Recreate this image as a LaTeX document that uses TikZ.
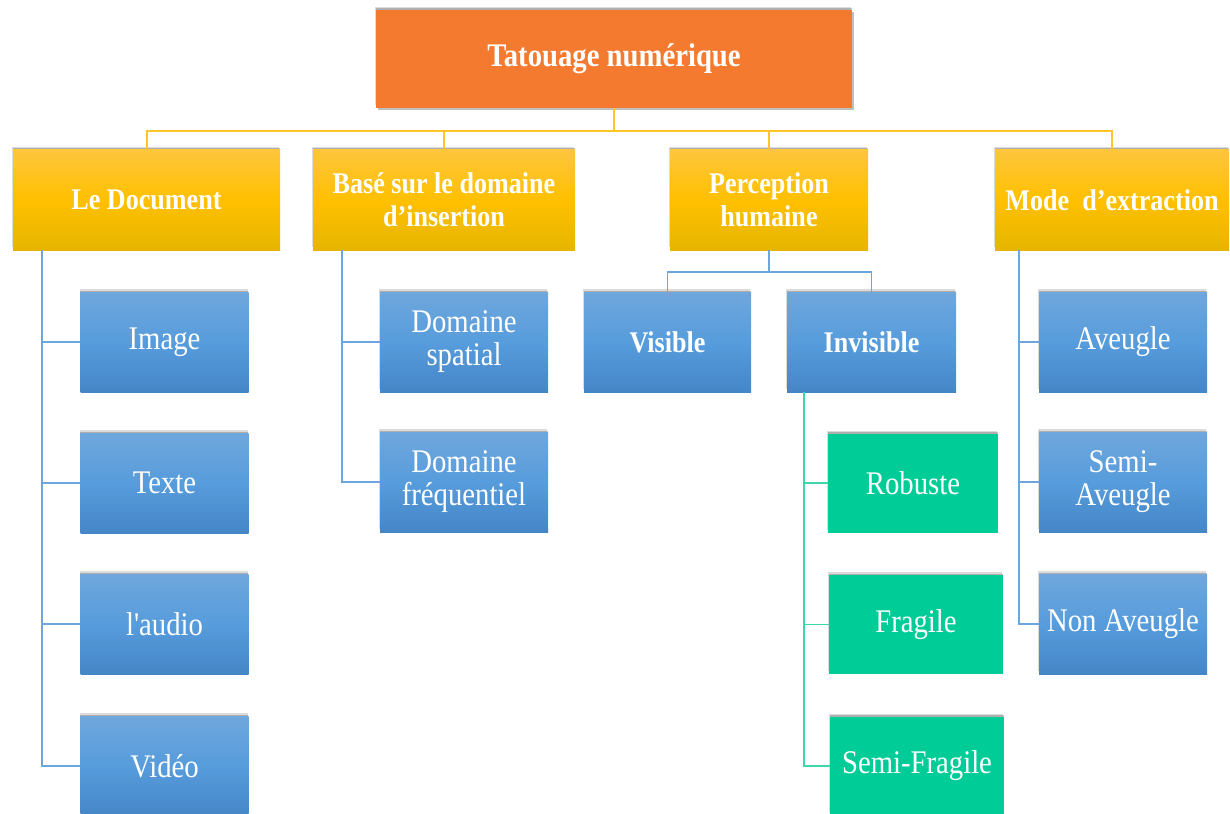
\documentclass[tikz,border=0pt]{standalone}
\usepackage{fontspec}
\setmainfont{Liberation Serif}[FakeStretch=0.87, Ligatures=TeXOff]
\usetikzlibrary{shadows}

\definecolor{rootorange}{HTML}{F47A2F}
\definecolor{goldtop}{HTML}{FDC63C}
\definecolor{goldmid}{HTML}{FFC000}
\definecolor{goldbot}{HTML}{E6B500}
\definecolor{bluetop}{HTML}{6FA7DC}
\definecolor{bluemid}{HTML}{579CDC}
\definecolor{bluebot}{HTML}{4586C7}
\definecolor{mint}{HTML}{00CC98}
\definecolor{goldline}{HTML}{FFC52A}
\definecolor{blueline}{HTML}{6BA6DE}
\definecolor{mintline}{HTML}{3FD6AA}

\begin{document}
\begin{tikzpicture}[x=1pt,y=-1pt,
  softshadow/.style={
    drop shadow={shadow xshift=-1pt, shadow yshift=3pt, opacity=0.14, fill=black},
    drop shadow={shadow xshift=-0.5pt, shadow yshift=1.5pt, opacity=0.2, fill=black}},
  basebox/.style={rectangle, inner sep=2pt, align=center, text=white, softshadow},
  rootbox/.style={basebox, fill=rootorange, minimum width=476pt, minimum height=98pt,
    font=\fontsize{33}{34}\selectfont\bfseries,
    drop shadow={shadow xshift=2pt, shadow yshift=-2pt, opacity=0.25, fill=black}},
  catbox/.style={basebox, top color=goldtop, bottom color=goldbot, middle color=goldmid,
    minimum height=100pt, font=\fontsize{30}{33}\selectfont\bfseries},
  leafbox/.style={basebox, top color=bluetop, bottom color=bluebot, middle color=bluemid,
    minimum width=168pt, minimum height=100pt, font=\fontsize{33}{33}\selectfont},
  kindbox/.style={leafbox, font=\fontsize{30}{33}\selectfont\bfseries},
  greenbox/.style={basebox, fill=mint, minimum height=99pt, font=\fontsize{33}{33}\selectfont},
  goldlink/.style={draw=goldline, line width=2pt},
  bluelink/.style={draw=blueline, line width=1.6pt},
  mintlink/.style={draw=mintline, line width=1.8pt}
]
\useasboundingbox (0,0) rectangle (1230,813);
\fill[white] (0,0) rectangle (1230,813);
\clip (0,0) rectangle (1230,813);

% root and the four criteria
\node[rootbox] (root) at (614,59) {Tatouage numérique};
\node[catbox, minimum width=267pt] (doc)  at (146.5,200) {Le Document};
\node[catbox, minimum width=262pt] (dom)  at (444,200) {Basé sur le domaine\\d’insertion};
\node[catbox, minimum width=198pt] (perc) at (769,200) {Perception\\humaine};
\node[catbox, minimum width=234pt] (mode) at (1112,200) {Mode~~d’extraction};

% document types
\node[leafbox] (img)   at (164.5,342) {Image};
\node[leafbox] (txt)   at (164.5,483) {Texte};
\node[leafbox] (aud)   at (164.5,624) {l'audio};
\node[leafbox] (vid)   at (164.5,766) {Vidéo};

% insertion domains
\node[leafbox] (spat)  at (464,342) {Domaine\\spatial};
\node[leafbox] (freq)  at (464,482) {Domaine\\fréquentiel};

% human perception
\node[kindbox, minimum width=167pt] (vis) at (667.5,342) {Visible};
\node[kindbox, minimum width=169pt] (inv) at (871.5,342) {Invisible};

% robustness of invisible marks
\node[greenbox, minimum width=170pt] (rob)  at (913,483) {Robuste};
\node[greenbox, minimum width=174pt] (frag) at (916,624.5) {Fragile};
\node[greenbox, minimum width=174pt] (sfrag) at (917,766) {Semi-Fragile};

% extraction modes
\node[leafbox] (blind)  at (1123,342) {Aveugle};
\node[leafbox] (sblind) at (1123,482) {Semi-\\Aveugle};
\node[leafbox] (nblind) at (1123,624) {Non Aveugle};

% top-level bus
\coordinate (bus) at (614,131);
\draw[goldlink] (root.south) -- (bus);
\draw[goldlink] (doc.north)  |- (bus);
\draw[goldlink] (dom.north)  |- (bus);
\draw[goldlink] (perc.north) |- (bus);
\draw[goldlink] (mode.north) |- (bus);

% document branch
\draw[bluelink] ([xshift=29pt]doc.south west) |- (img.west);
\draw[bluelink] ([xshift=29pt]doc.south west) |- (txt.west);
\draw[bluelink] ([xshift=29pt]doc.south west) |- (aud.west);
\draw[bluelink] ([xshift=29pt]doc.south west) |- (vid.west);

% domain branch
\draw[bluelink] ([xshift=29pt]dom.south west) |- (spat.west);
\draw[bluelink] ([xshift=29pt]dom.south west) |- (freq.west);

% perception branch
\coordinate (pbus) at (769,272);
\draw[bluelink] (perc.south) -- (pbus);
\draw[bluelink] (vis.north) |- (pbus);
\draw[bluelink] (inv.north) |- (pbus);

% invisible branch
\draw[mintlink] ([xshift=17pt]inv.south west) |- (rob.west);
\draw[mintlink] ([xshift=17pt]inv.south west) |- (frag.west);
\draw[mintlink] ([xshift=17pt]inv.south west) |- (sfrag.west);

% extraction branch
\draw[bluelink] ([xshift=24pt]mode.south west) |- (blind.west);
\draw[bluelink] ([xshift=24pt]mode.south west) |- (sblind.west);
\draw[bluelink] ([xshift=24pt]mode.south west) |- (nblind.west);
\end{tikzpicture}
\end{document}
